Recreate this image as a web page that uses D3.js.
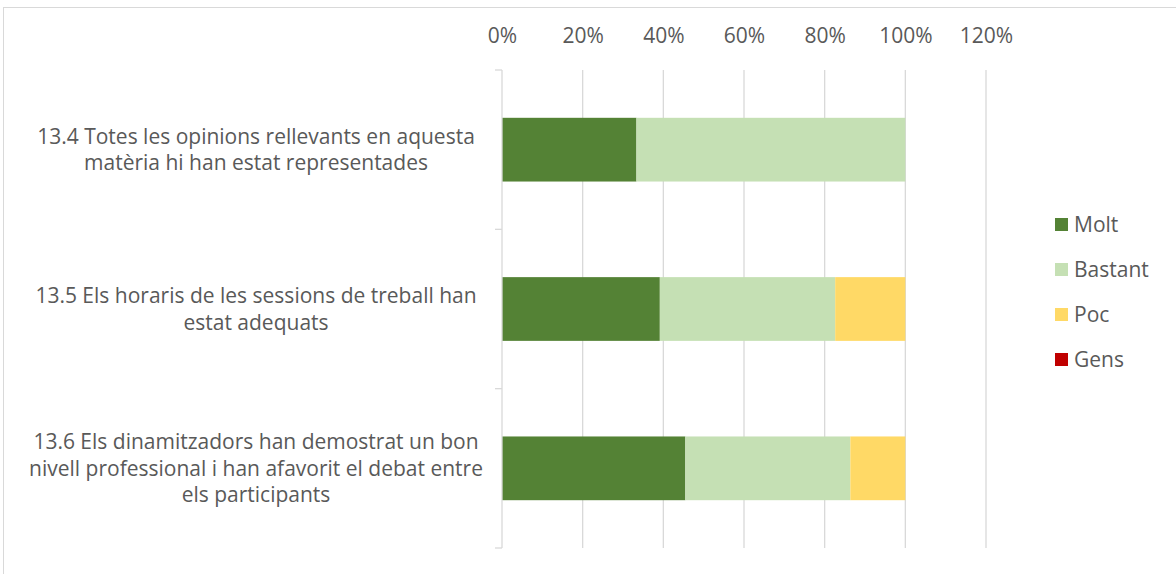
<!DOCTYPE html>
<html><head><meta charset="utf-8">
<script src="https://cdn.jsdelivr.net/npm/d3@7"></script>
<style>body{margin:0;background:#fff;}text{font-family:"Open Sans","Noto Sans",sans-serif;fill:#595959;}</style>
</head><body><svg id="c" width="1176" height="574"></svg>
<script>
const categories = [
  "13.4 Totes les opinions rellevants en aquesta|matèria hi han estat representades",
  "13.5 Els horaris de les sessions de treball han|estat adequats",
  "13.6 Els dinamitzadors han demostrat un bon|nivell professional i han afavorit el debat entre|els participants"
];
const seriesNames = ["Molt", "Bastant", "Poc", "Gens"];
const molt = [1/3, 9/23, 10/22];
const bastant = [2/3, 10/23, 9/22];
const poc = [0, 4/23, 3/22];
const gens = [0, 0, 0];
const colors = ["#548235", "#c5e0b4", "#ffd966", "#c00000"];
const tickValues = [0, 0.2, 0.4, 0.6, 0.8, 1.0, 1.2];

const svg = d3.select("#c");
svg.append("rect").attr("x",3.5).attr("y",7.5).attr("width",1200).attr("height",600)
  .attr("fill","none").attr("stroke","#d9d9d9");

const x = d3.scaleLinear().domain([0,1.2]).range([502,986]);
const y = d3.scaleBand().domain(d3.range(categories.length)).range([70,548]).padding(0);

svg.append("g").selectAll("line").data(tickValues.slice(1)).join("line")
  .attr("x1",d=>x(d)).attr("x2",d=>x(d)).attr("y1",70).attr("y2",548)
  .attr("stroke","#d9d9d9").attr("stroke-width",1.3);

const ax = svg.append("g").attr("transform","translate(0,46)")
  .call(d3.axisTop(x).tickValues(tickValues).tickFormat(d3.format(".0%")).tickSize(0));
ax.select(".domain").remove();
ax.selectAll("text").attr("font-size",21).attr("fill","#595959").attr("dy",0)
  .style("font-family",'"Open Sans","Noto Sans",sans-serif');

const rows = categories.map((c,i)=>({i, Molt:molt[i], Bastant:bastant[i], Poc:poc[i], Gens:gens[i]}));
const stack = d3.stack().keys(seriesNames)(rows);
const bh = y.bandwidth()*0.4;
svg.append("g").selectAll("g").data(stack).join("g").attr("fill",(d,k)=>colors[k])
  .selectAll("rect").data(d=>d).join("rect")
  .attr("x",d=>x(d[0])).attr("width",d=>Math.max(0,x(d[1])-x(d[0])))
  .attr("y",d=>y(d.data.i)+(y.bandwidth()-bh)/2).attr("height",bh);

const yAx = svg.append("g").attr("transform","translate(502,0)");
yAx.append("line").attr("x1",0).attr("x2",0).attr("y1",70).attr("y2",548).attr("stroke","#d9d9d9").attr("stroke-width",1.3);
const edges = categories.map((c,i)=>y(i)).concat([548]);
yAx.selectAll("line.t").data(edges).join("line").attr("class","t")
  .attr("x1",-7).attr("x2",0).attr("y1",d=>d).attr("y2",d=>d).attr("stroke","#d9d9d9").attr("stroke-width",1.3);

const lab = svg.append("g");
categories.forEach((c,i)=>{
  const lines = c.split("|");
  const cy = y(i)+y.bandwidth()/2;
  const lh = 26.5;
  lines.forEach((l,j)=>{
    lab.append("text").attr("x",256).attr("y",cy+(j-(lines.length-1)/2)*lh+7.5)
      .attr("text-anchor","middle").attr("font-size",21).text(l);
  });
});

const lg = svg.append("g").selectAll("g").data(seriesNames).join("g")
  .attr("transform",(d,k)=>`translate(1055,${225+k*45})`);
lg.append("rect").attr("x",0).attr("y",-7).attr("width",13).attr("height",13).attr("fill",(d,k)=>colors[k]);
lg.append("text").attr("x",19).attr("y",7).attr("font-size",21).text(d=>d);
</script></body></html>
